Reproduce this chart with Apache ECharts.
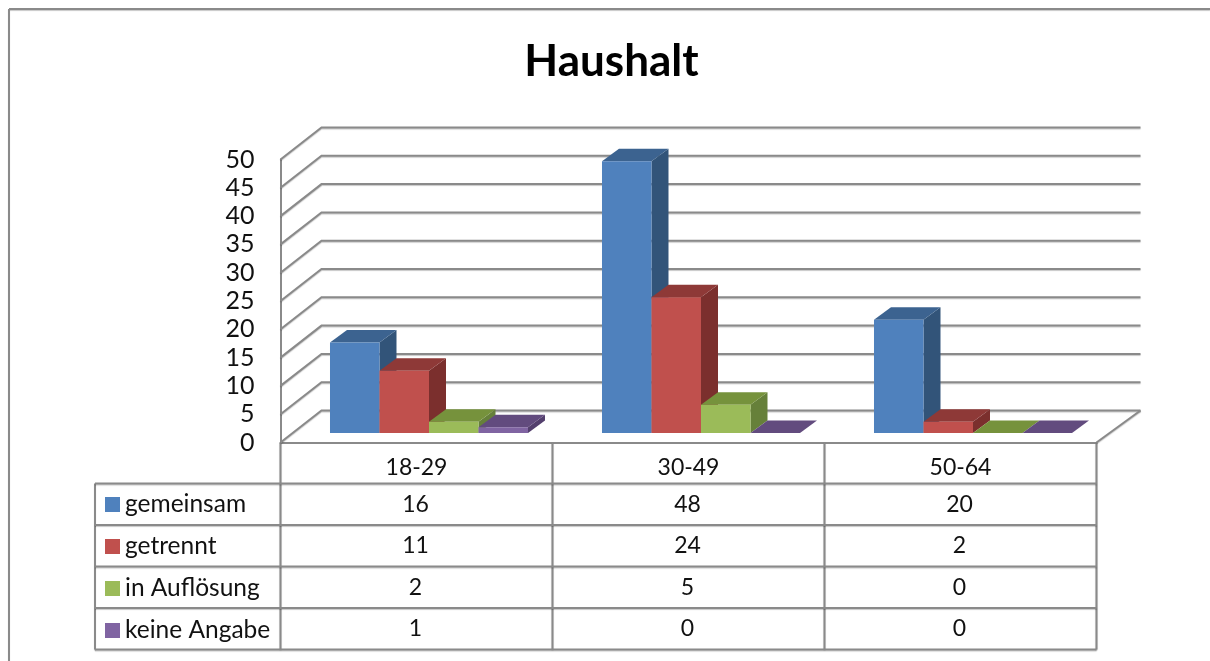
<!DOCTYPE html>
<html>
<head>
<meta charset="utf-8">
<title>Haushalt</title>
<style>
html, body { margin: 0; padding: 0; background: #fff; }
#chart { width: 1210px; height: 661px; }
</style>
<script src="https://cdn.jsdelivr.net/npm/echarts@6/dist/echarts.min.js"></script>
</head>
<body>
<div id="chart"></div>
<script>
// data
var categories = ['18-29', '30-49', '50-64'];
var seriesNames = ['gemeinsam', 'getrennt', 'in Auflösung', 'keine Angabe'];
var gemeinsam = [16, 48, 20];
var getrennt = [11, 24, 2];
var inAufloesung = [2, 5, 0];
var keineAngabe = [1, 0, 0];
var yTicks = [0, 5, 10, 15, 20, 25, 30, 35, 40, 45, 50];

// front / top / side colours of the bars
var frontColors = ['#4f81bd', '#c0504d', '#9bbb59', '#8064a2'];
var topColors = ['#3c6390', '#8e3937', '#76923c', '#624b7e'];
var sideColors = ['#325479', '#7b2f2d', '#66803a', '#533f6d'];

var FONT = 'Lato';
var LINE = '#8a8a8a';
var WALL_DX_LEFT = 41, WALL_DX_RIGHT = 44, WALL_DY = -32;   // depth of the chart box
var BAR_DX = 17, BAR_DY = -12.5;   // depth of one bar
var BAR_SHIFT_X = 12.5, BAR_SHIFT_Y = -9.5;  // bars stand inside the floor

var TABLE_LEFT = 95, TABLE_TOP = 483.5, ROW_H = 41.5;
var allValues = [gemeinsam, getrennt, inAufloesung, keineAngabe];

var myChart = echarts.init(document.getElementById('chart'), null, { renderer: 'canvas' });

// the picture has a soft grey edge under its lines
function lineStyle() {
    return {
        fill: null,
        stroke: LINE,
        lineWidth: 2,
        shadowColor: 'rgba(0,0,0,0.22)',
        shadowBlur: 1,
        shadowOffsetY: 1
    };
}

// gridlines run along the left wall and the back wall
function renderWall(params, api) {
    var grid = params.coordSys;
    var p = api.coord([0, api.value(0)]);
    var y = p[1];
    var left = grid.x, right = grid.x + grid.width;
    var children = [{
        type: 'polyline',
        shape: { points: [[left, y], [left + WALL_DX_LEFT, y + WALL_DY], [right + WALL_DX_RIGHT, y + WALL_DY]] },
        style: lineStyle()
    }];
    if (api.value(0) === 0) {
        children.push({
            type: 'line',
            shape: { x1: right, y1: y, x2: right + WALL_DX_RIGHT, y2: y + WALL_DY },
            style: lineStyle()
        });
    }
    return { type: 'group', children: children };
}

function makeBarRender(index) {
    return function (params, api) {
        var band = api.size([1, 0])[0];
        var barW = band * 0.182;
        var base = api.coord([api.value(0), 0]);
        var head = api.coord([api.value(0), api.value(1)]);
        var x0 = base[0] + BAR_SHIFT_X + (index - 2) * barW;
        var x1 = x0 + barW;
        var y0 = base[1] + BAR_SHIFT_Y;
        var y1 = head[1] + BAR_SHIFT_Y;
        var children = [{
            type: 'polygon',
            shape: { points: [[x1, y0], [x1 + BAR_DX, y0 + BAR_DY], [x1 + BAR_DX, y1 + BAR_DY], [x1, y1]] },
            style: { fill: sideColors[index] }
        }, {
            type: 'polygon',
            shape: { points: [[x0, y1], [x1, y1], [x1 + BAR_DX, y1 + BAR_DY], [x0 + BAR_DX, y1 + BAR_DY]] },
            style: { fill: topColors[index] }
        }, {
            type: 'rect',
            shape: { x: x0, y: y1, width: barW, height: y0 - y1 },
            style: { fill: frontColors[index] }
        }];
        return { type: 'group', children: children };
    };
}

// numbers in the table cells, x comes from the category axis
function renderCell(params, api) {
    var p = api.coord([api.value(0), 0]);
    return {
        type: 'text',
        style: {
            x: p[0] - 1,
            y: TABLE_TOP + ROW_H * (api.value(1) + 0.5),
            text: String(api.value(2)),
            font: '23px ' + FONT,
            fill: '#111',
            align: 'center',
            verticalAlign: 'middle'
        }
    };
}

function tableLines() {
    var list = [];
    var xs = [280.5, 552.5, 824.5, 1096.5];
    var bottom = TABLE_TOP + ROW_H * seriesNames.length;
    function add(x1, y1, x2, y2) {
        list.push({
            type: 'line',
            z: 1,
            shape: { x1: x1, y1: y1, x2: x2, y2: y2 },
            style: lineStyle()
        });
    }
    xs.forEach(function (x) { add(x, 442.5, x, bottom); });
    add(TABLE_LEFT, TABLE_TOP, TABLE_LEFT, bottom);
    for (var r = 0; r <= seriesNames.length; r++) {
        add(TABLE_LEFT, TABLE_TOP + ROW_H * r, 1096.5, TABLE_TOP + ROW_H * r);
    }
    // frame of the chart area, cut off by the picture
    add(9, 9, 1210, 9);
    add(9, 9, 9, 661);
    return list;
}

var cellData = [];
allValues.forEach(function (values, r) {
    values.forEach(function (v, c) { cellData.push([c, r, v]); });
});

var series = [{
    type: 'custom',
    name: 'wall',
    renderItem: renderWall,
    silent: true,
    z: 1,
    clip: false,
    data: yTicks.map(function (t) { return [t]; }),
    encode: { y: 0 }
}];
allValues.forEach(function (values, i) {
    series.push({
        type: 'custom',
        name: seriesNames[i],
        renderItem: makeBarRender(i),
        z: 2 + i,
        clip: false,
        itemStyle: { color: frontColors[i] },
        data: values.map(function (v, c) { return [c, v]; }),
        encode: { x: 0, y: 1 }
    });
});
series.push({
    type: 'custom',
    name: 'cells',
    renderItem: renderCell,
    silent: true,
    z: 10,
    clip: false,
    data: cellData,
    encode: { x: 0 }
});

var option = {
    animation: false,
    backgroundColor: '#fff',
    title: {
        text: 'Haushalt',
        left: 611.5,
        top: 40,
        padding: 0,
        textAlign: 'center',
        textStyle: { fontFamily: FONT, fontWeight: 'bold', fontSize: 44, color: '#000' }
    },
    legend: {
        orient: 'vertical',
        left: 105,
        top: 492,
        padding: 0,
        itemWidth: 15,
        itemHeight: 15,
        itemGap: 17,
        icon: 'rect',
        selectedMode: false,
        data: seriesNames,
        textStyle: { fontFamily: FONT, fontSize: 24.5, color: '#111' }
    },
    grid: { left: 280.5, top: 159.5, width: 816, height: 283 },
    xAxis: {
        type: 'category',
        data: categories,
        axisTick: { show: false },
        axisLine: { show: true, lineStyle: { color: LINE, width: 2 } },
        axisLabel: { margin: 14, fontFamily: FONT, fontSize: 23, color: '#111' }
    },
    yAxis: {
        type: 'value',
        min: 0,
        max: 50,
        interval: 5,
        splitLine: { show: false },
        axisTick: { show: false },
        axisLine: { show: true, lineStyle: { color: LINE, width: 2 } },
        axisLabel: { margin: 26, fontFamily: FONT, fontSize: 25, color: '#111' }
    },
    graphic: tableLines(),
    series: series
};
myChart.setOption(option);
</script>
</body>
</html>
